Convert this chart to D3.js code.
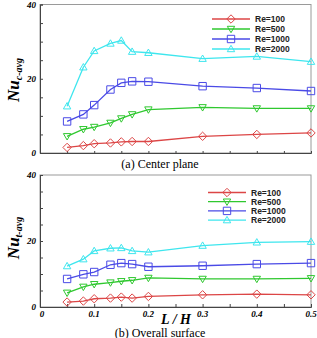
<!DOCTYPE html>
<html>
<head>
<meta charset="utf-8">
<script src="https://cdn.jsdelivr.net/npm/d3@7"></script>
<style>
  body { margin: 0; background: #fff; }
  svg { display: block; }
</style>
</head>
<body>
<svg id="chart" width="317" height="338"></svg>
<script>
// L/H values shared by both panels
const lh = [0.05, 0.08, 0.1, 0.13, 0.15, 0.17, 0.2, 0.3, 0.4, 0.5];
const reLabels = ["Re=100", "Re=500", "Re=1000", "Re=2000"];

// (a) center plane
const centerRe100 = [1.5, 2.0, 2.5, 2.7, 3.0, 3.1, 3.1, 4.5, 5.0, 5.4];
const centerRe500 = [4.5, 6.4, 7.0, 8.1, 9.3, 10.4, 11.7, 12.3, 12.0, 12.0];
const centerRe1000 = [8.5, 10.4, 12.9, 17.1, 18.9, 19.3, 19.2, 18.0, 17.5, 16.7];
const centerRe2000 = [12.6, 23.1, 27.5, 29.5, 30.3, 27.3, 27.0, 25.4, 26.0, 24.6];

// (b) overall surface
const overallRe100 = [1.5, 1.8, 2.5, 2.7, 3.0, 2.7, 3.2, 3.7, 3.9, 3.7];
const overallRe500 = [4.3, 6.1, 6.9, 7.4, 7.8, 8.1, 8.8, 8.5, 8.5, 8.7];
const overallRe1000 = [8.5, 9.9, 10.6, 12.8, 13.3, 13.0, 12.2, 12.5, 13.0, 13.3];
const overallRe2000 = [12.4, 14.5, 17.0, 17.8, 17.9, 17.0, 16.6, 18.6, 19.6, 19.8];

const xTickLabels = [0, 0.1, 0.2, 0.3, 0.4, 0.5];
const yTickLabels = [0, 20, 40];

const colors = ["#dc4646", "#2fc82f", "#4a4ae6", "#3ee6ee"];
const shapes = ["diamond", "down", "square", "up"];

const svg = d3.select("#chart");
const serif = "'Liberation Serif', 'DejaVu Serif', serif";
const sans = "'Liberation Sans', Arial, sans-serif";

const x = d3.scaleLinear().domain([0, 0.5]).range([40, 311]);

function marker(g, shape, cx, cy, color) {
    const s = 3.7;
    let pts;
    if (shape === "diamond") pts = [[0, -s - 0.5], [s + 0.5, 0], [0, s + 0.5], [-s - 0.5, 0]];
    else if (shape === "square") pts = [[-s, -s], [s, -s], [s, s], [-s, s]];
    else if (shape === "down") pts = [[-s, -s + 1], [s, -s + 1], [0, s]];
    else pts = [[-s, s - 1], [s, s - 1], [0, -s]];
    g.append("polygon")
        .attr("points", pts.map(p => [cx + p[0], cy + p[1]].join(",")).join(" "))
        .attr("fill", "none")
        .attr("stroke", color)
        .attr("stroke-width", 1);
}

function drawPanel(opts) {
    const y = d3.scaleLinear().domain([0, 40]).range([opts.bottom, opts.top]);
    const g = svg.append("g");

    // frame
    g.append("rect")
        .attr("x", x(0)).attr("y", y(40))
        .attr("width", x(0.5) - x(0)).attr("height", y(0) - y(40))
        .attr("fill", "none").attr("stroke", "#9a9a9a").attr("stroke-width", 1);

    // y axis, ticks inward
    const yAxis = g.append("g")
        .attr("transform", `translate(${x(0)},0)`)
        .call(d3.axisRight(y).tickValues(d3.range(0, 41, 5)).tickSize(3).tickFormat(""));
    yAxis.select(".domain").attr("stroke", "#444");
    yAxis.selectAll(".tick line").attr("stroke", "#444");

    // x axis, ticks inward
    const xAxis = g.append("g")
        .attr("transform", `translate(0,${y(0)})`)
        .call(d3.axisTop(x).tickValues(d3.range(0, 0.51, 0.05)).tickSize(opts.xLabels ? 3 : 2).tickFormat(""));
    xAxis.select(".domain").attr("stroke", "#444");
    xAxis.selectAll(".tick line").attr("stroke", "#444");

    // y tick labels
    g.selectAll(".ylab")
        .data(yTickLabels)
        .enter().append("text")
        .attr("x", x(0) - 4)
        .attr("y", d => y(d) + 3)
        .attr("text-anchor", "end")
        .attr("font-family", serif)
        .attr("font-weight", "bold")
        .attr("font-style", "italic")
        .attr("font-size", 9)
        .text(d => d);

    if (opts.xLabels) {
        g.selectAll(".xlab")
            .data(xTickLabels)
            .enter().append("text")
            .attr("x", d => x(d) + (d === 0 ? 2 : 0))
            .attr("y", y(0) + 10)
            .attr("text-anchor", "middle")
            .attr("font-family", serif)
            .attr("font-weight", "bold")
            .attr("font-style", "italic")
            .attr("font-size", 9)
            .text(d => d);
    }

    // y label
    const yl = g.append("text")
        .attr("transform", `translate(19,${opts.labelY}) rotate(-90)`)
        .attr("text-anchor", "middle")
        .attr("font-family", serif)
        .attr("font-weight", "bold")
        .attr("font-style", "italic")
        .attr("font-size", 17);
    yl.append("tspan").text("Nu");
    yl.append("tspan").attr("font-size", 10).attr("dy", 3).text(opts.sub);

    // series
    const line = d3.line().x((d, i) => x(lh[i])).y(d => y(d));
    opts.series.forEach((vals, k) => {
        g.append("path")
            .datum(vals)
            .attr("fill", "none")
            .attr("stroke", colors[k])
            .attr("stroke-width", 1.3)
            .attr("d", line);
        vals.forEach((v, i) => marker(g, shapes[k], x(lh[i]), y(v), colors[k]));
    });

    // legend
    const lg = g.append("g");
    reLabels.forEach((lab, k) => {
        const ly = opts.legendY + k * opts.legendStep;
        lg.append("line")
            .attr("x1", opts.legendX).attr("x2", opts.legendX + 38)
            .attr("y1", ly).attr("y2", ly)
            .attr("stroke", colors[k]).attr("stroke-width", 1.3);
        marker(lg, shapes[k], opts.legendX + 19, ly, colors[k]);
        lg.append("text")
            .attr("x", opts.legendX + 43)
            .attr("y", ly + 3)
            .attr("font-family", sans)
            .attr("font-weight", "bold")
            .attr("font-size", 8.5)
            .attr("fill", "#222")
            .text(lab);
    });

    // caption
    svg.append("text")
        .attr("x", 160)
        .attr("y", opts.captionY)
        .attr("text-anchor", "middle")
        .attr("font-family", serif)
        .attr("font-size", 12)
        .text(opts.caption);
}

drawPanel({
    top: 4.5, bottom: 153,
    series: [centerRe100, centerRe500, centerRe1000, centerRe2000],
    sub: "c-avg", labelY: 80,
    legendX: 212, legendY: 19, legendStep: 10,
    caption: "(a) Center plane", captionY: 168,
    xLabels: false
});

drawPanel({
    top: 175, bottom: 307,
    series: [overallRe100, overallRe500, overallRe1000, overallRe2000],
    sub: "t-avg", labelY: 238,
    legendX: 208, legendY: 192.5, legendStep: 9.2,
    caption: "(b) Overall surface", captionY: 336.5,
    xLabels: true
});

// x axis title
svg.append("text")
    .attr("x", 176)
    .attr("y", 324)
    .attr("text-anchor", "middle")
    .attr("font-family", serif)
    .attr("font-weight", "bold")
    .attr("font-style", "italic")
    .attr("font-size", 14)
    .text("L / H");
</script>
</body>
</html>
